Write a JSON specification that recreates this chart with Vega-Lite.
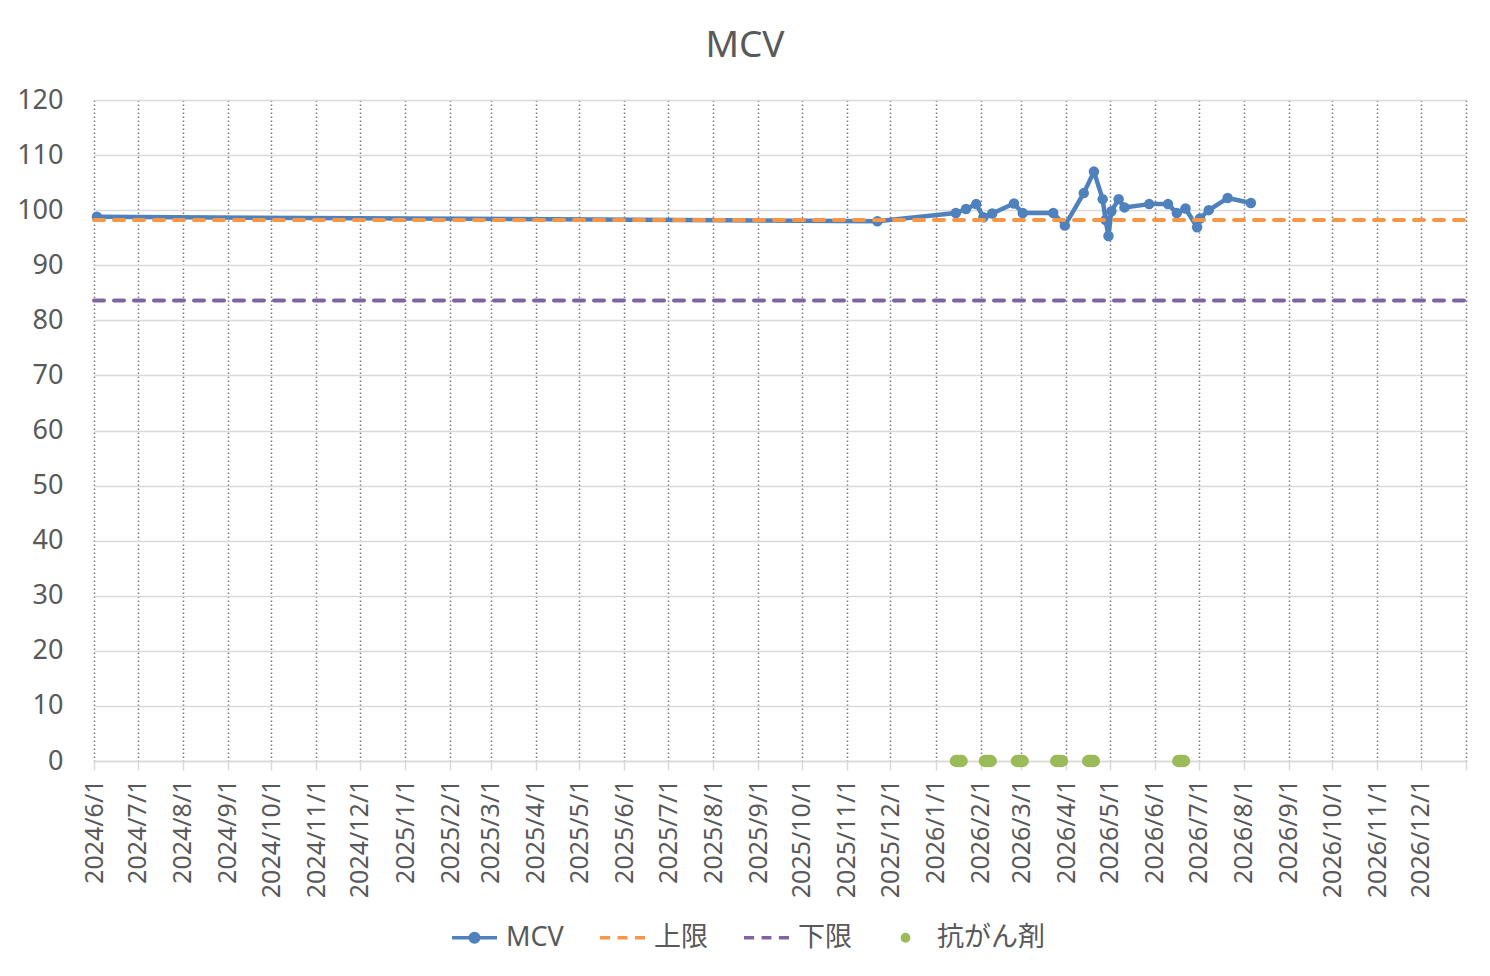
{
  "$schema": "https://vega.github.io/schema/vega-lite/v6.json",
  "title": {
    "text": "MCV",
    "fontSize": 37,
    "fontWeight": "normal",
    "color": "#595959",
    "offset": 21,
    "dx": -35
  },
  "width": 1372,
  "height": 661,
  "autosize": "none",
  "padding": {"left": 94, "top": 100, "right": 24, "bottom": 215},
  "background": "#ffffff",
  "data": {
    "values": [
      {"date": "2024/06/03", "value": 98.8, "series": "MCV"},
      {"date": "2025/11/22", "value": 98.0, "series": "MCV"},
      {"date": "2026/01/15", "value": 99.5, "series": "MCV"},
      {"date": "2026/01/22", "value": 100.2, "series": "MCV"},
      {"date": "2026/01/29", "value": 101.1, "series": "MCV"},
      {"date": "2026/02/03", "value": 98.7, "series": "MCV"},
      {"date": "2026/02/09", "value": 99.4, "series": "MCV"},
      {"date": "2026/02/24", "value": 101.2, "series": "MCV"},
      {"date": "2026/03/02", "value": 99.5, "series": "MCV"},
      {"date": "2026/03/23", "value": 99.5, "series": "MCV"},
      {"date": "2026/03/31", "value": 97.2, "series": "MCV"},
      {"date": "2026/04/13", "value": 103.1, "series": "MCV"},
      {"date": "2026/04/20", "value": 107.0, "series": "MCV"},
      {"date": "2026/04/26", "value": 102.0, "series": "MCV"},
      {"date": "2026/04/28", "value": 98.2, "series": "MCV"},
      {"date": "2026/04/30", "value": 95.3, "series": "MCV"},
      {"date": "2026/05/02", "value": 99.8, "series": "MCV"},
      {"date": "2026/05/07", "value": 102.0, "series": "MCV"},
      {"date": "2026/05/11", "value": 100.5, "series": "MCV"},
      {"date": "2026/05/28", "value": 101.1, "series": "MCV"},
      {"date": "2026/06/10", "value": 101.1, "series": "MCV"},
      {"date": "2026/06/16", "value": 99.5, "series": "MCV"},
      {"date": "2026/06/22", "value": 100.3, "series": "MCV"},
      {"date": "2026/06/30", "value": 96.9, "series": "MCV"},
      {"date": "2026/07/02", "value": 98.5, "series": "MCV"},
      {"date": "2026/07/08", "value": 100.0, "series": "MCV"},
      {"date": "2026/07/21", "value": 102.2, "series": "MCV"},
      {"date": "2026/08/06", "value": 101.3, "series": "MCV"},
      {"date": "2024/06/01", "value": 98.2, "series": "上限"},
      {"date": "2027/01/01", "value": 98.2, "series": "上限"},
      {"date": "2024/06/01", "value": 83.6, "series": "下限"},
      {"date": "2027/01/01", "value": 83.6, "series": "下限"},
      {"date": "2026/01/15", "value": 0, "series": "抗がん剤"},
      {"date": "2026/01/16", "value": 0, "series": "抗がん剤"},
      {"date": "2026/01/17", "value": 0, "series": "抗がん剤"},
      {"date": "2026/01/18", "value": 0, "series": "抗がん剤"},
      {"date": "2026/01/19", "value": 0, "series": "抗がん剤"},
      {"date": "2026/02/04", "value": 0, "series": "抗がん剤"},
      {"date": "2026/02/05", "value": 0, "series": "抗がん剤"},
      {"date": "2026/02/06", "value": 0, "series": "抗がん剤"},
      {"date": "2026/02/07", "value": 0, "series": "抗がん剤"},
      {"date": "2026/02/08", "value": 0, "series": "抗がん剤"},
      {"date": "2026/02/26", "value": 0, "series": "抗がん剤"},
      {"date": "2026/02/27", "value": 0, "series": "抗がん剤"},
      {"date": "2026/02/28", "value": 0, "series": "抗がん剤"},
      {"date": "2026/03/01", "value": 0, "series": "抗がん剤"},
      {"date": "2026/03/02", "value": 0, "series": "抗がん剤"},
      {"date": "2026/03/25", "value": 0, "series": "抗がん剤"},
      {"date": "2026/03/26", "value": 0, "series": "抗がん剤"},
      {"date": "2026/03/27", "value": 0, "series": "抗がん剤"},
      {"date": "2026/03/28", "value": 0, "series": "抗がん剤"},
      {"date": "2026/03/29", "value": 0, "series": "抗がん剤"},
      {"date": "2026/04/16", "value": 0, "series": "抗がん剤"},
      {"date": "2026/04/17", "value": 0, "series": "抗がん剤"},
      {"date": "2026/04/18", "value": 0, "series": "抗がん剤"},
      {"date": "2026/04/19", "value": 0, "series": "抗がん剤"},
      {"date": "2026/04/20", "value": 0, "series": "抗がん剤"},
      {"date": "2026/06/17", "value": 0, "series": "抗がん剤"},
      {"date": "2026/06/18", "value": 0, "series": "抗がん剤"},
      {"date": "2026/06/19", "value": 0, "series": "抗がん剤"},
      {"date": "2026/06/20", "value": 0, "series": "抗がん剤"},
      {"date": "2026/06/21", "value": 0, "series": "抗がん剤"}
    ],
    "format": {"parse": {"date": "date"}}
  },
  "encoding": {
    "x": {
      "field": "date",
      "type": "temporal",
      "scale": {
        "domain": [
          {"year": 2024, "month": 6, "date": 1},
          {"year": 2027, "month": 1, "date": 1}
        ],
        "nice": false
      },
      "axis": {
        "title": null,
        "values": [
          {"year": 2024, "month": 6, "date": 1},
          {"year": 2024, "month": 7, "date": 1},
          {"year": 2024, "month": 8, "date": 1},
          {"year": 2024, "month": 9, "date": 1},
          {"year": 2024, "month": 10, "date": 1},
          {"year": 2024, "month": 11, "date": 1},
          {"year": 2024, "month": 12, "date": 1},
          {"year": 2025, "month": 1, "date": 1},
          {"year": 2025, "month": 2, "date": 1},
          {"year": 2025, "month": 3, "date": 1},
          {"year": 2025, "month": 4, "date": 1},
          {"year": 2025, "month": 5, "date": 1},
          {"year": 2025, "month": 6, "date": 1},
          {"year": 2025, "month": 7, "date": 1},
          {"year": 2025, "month": 8, "date": 1},
          {"year": 2025, "month": 9, "date": 1},
          {"year": 2025, "month": 10, "date": 1},
          {"year": 2025, "month": 11, "date": 1},
          {"year": 2025, "month": 12, "date": 1},
          {"year": 2026, "month": 1, "date": 1},
          {"year": 2026, "month": 2, "date": 1},
          {"year": 2026, "month": 3, "date": 1},
          {"year": 2026, "month": 4, "date": 1},
          {"year": 2026, "month": 5, "date": 1},
          {"year": 2026, "month": 6, "date": 1},
          {"year": 2026, "month": 7, "date": 1},
          {"year": 2026, "month": 8, "date": 1},
          {"year": 2026, "month": 9, "date": 1},
          {"year": 2026, "month": 10, "date": 1},
          {"year": 2026, "month": 11, "date": 1},
          {"year": 2026, "month": 12, "date": 1},
          {"year": 2027, "month": 1, "date": 1}
        ],
        "labelExpr": "year(datum.value) >= 2027 ? '' : timeFormat(datum.value, '%Y/%-m/%-d')",
        "labelAngle": 270,
        "labelAlign": "right",
        "labelBaseline": "middle",
        "labelFontSize": 25,
        "labelColor": "#595959",
        "labelOverlap": false,
        "labelFlush": false,
        "labelPadding": 9,
        "tickSize": 9,
        "tickColor": "#d9d9d9",
        "tickWidth": 1.5,
        "domainColor": "#d9d9d9",
        "domainWidth": 1.5,
        "grid": true,
        "gridColor": "#7a7a7a",
        "gridDash": [1.5, 2.5],
        "gridWidth": 1.5
      }
    },
    "y": {
      "field": "value",
      "type": "quantitative",
      "scale": {"domain": [0, 120], "nice": false},
      "axis": {
        "title": null,
        "values": [0, 10, 20, 30, 40, 50, 60, 70, 80, 90, 100, 110, 120],
        "domain": false,
        "ticks": false,
        "tickSize": 0,
        "labelFontSize": 27,
        "labelColor": "#595959",
        "labelPadding": 31,
        "grid": true,
        "gridColor": "#d9d9d9",
        "gridWidth": 1.5
      }
    }
  },
  "layer": [
    {
      "transform": [{"filter": "datum.series === 'MCV'"}],
      "mark": {
        "type": "line",
        "color": "#4f81bd",
        "strokeWidth": 4.5,
        "strokeJoin": "round",
        "point": {"filled": true, "size": 110, "color": "#4f81bd", "opacity": 1}
      }
    },
    {
      "transform": [{"filter": "datum.series === '上限'"}],
      "mark": {
        "type": "line",
        "color": "#f79646",
        "strokeWidth": 4,
        "strokeDash": [10, 10],
        "strokeCap": "round"
      }
    },
    {
      "transform": [{"filter": "datum.series === '下限'"}],
      "mark": {
        "type": "line",
        "color": "#8064a2",
        "strokeWidth": 4,
        "strokeDash": [10, 10],
        "strokeCap": "round"
      }
    },
    {
      "transform": [{"filter": "datum.series === '抗がん剤'"}],
      "mark": {"type": "point", "filled": true, "size": 5470, "strokeWidth": 2, "opacity": 1},
      "encoding": {
        "shape": {
          "field": "series",
          "type": "nominal",
          "scale": {
            "domain": ["MCV", "上限", "下限", "抗がん剤"],
            "range": [
              "M-1,0H1M-0.19,0A0.19,0.19,0,1,0,0.19,0A0.19,0.19,0,1,0,-0.19,0Z",
              "M-1,0H-0.55M-0.22,0H0.22M0.55,0H1",
              "M-1,0H-0.55M-0.22,0H0.22M0.55,0H1",
              "M-0.14,0A0.14,0.14,0,1,0,0.14,0A0.14,0.14,0,1,0,-0.14,0Z"
            ]
          },
          "legend": {
            "title": null,
            "orient": "none",
            "direction": "horizontal",
            "legendX": 356,
            "legendY": 813,
            "symbolSize": 2025,
            "symbolStrokeWidth": 3.5,
            "symbolOpacity": 1,
            "labelFontSize": 27,
            "labelColor": "#595959",
            "labelOffset": 7,
            "columnPadding": 29
          }
        },
        "fill": {
          "field": "series",
          "type": "nominal",
          "scale": {
            "domain": ["MCV", "上限", "下限", "抗がん剤"],
            "range": ["#4f81bd", "#f79646", "#8064a2", "#9bbb59"]
          }
        },
        "stroke": {
          "field": "series",
          "type": "nominal",
          "scale": {
            "domain": ["MCV", "上限", "下限", "抗がん剤"],
            "range": ["#4f81bd", "#f79646", "#8064a2", "#9bbb59"]
          }
        }
      }
    }
  ],
  "config": {
    "view": {"stroke": null},
    "font": "Noto Sans, Noto Sans CJK JP, sans-serif",
    "legend": {"labelFont": "Noto Sans, Noto Sans CJK JP, sans-serif"}
  }
}
